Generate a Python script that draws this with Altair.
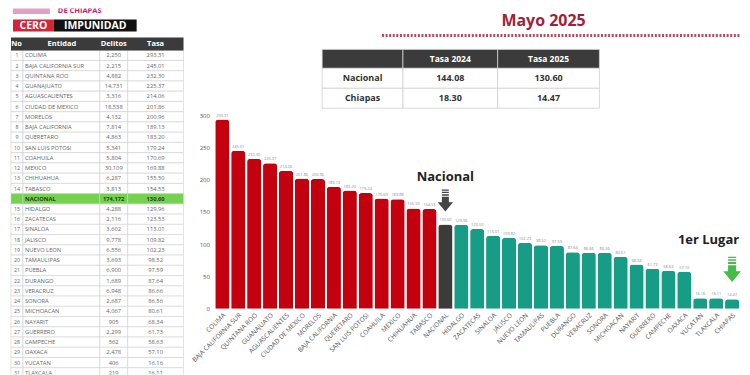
import altair as alt
import pandas as pd

# ---------------- data ----------------
entities = ["COLIMA", "BAJA CALIFORNIA SUR", "QUINTANA ROO", "GUANAJUATO", "AGUASCALIENTES",
            "CIUDAD DE MEXICO", "MORELOS", "BAJA CALIFORNIA", "QUERETARO", "SAN LUIS POTOSI",
            "COAHUILA", "MEXICO", "CHIHUAHUA", "TABASCO", "NACIONAL", "HIDALGO", "ZACATECAS",
            "SINALOA", "JALISCO", "NUEVO LEON", "TAMAULIPAS", "PUEBLA", "DURANGO", "VERACRUZ",
            "SONORA", "MICHOACAN", "NAYARIT", "GUERRERO", "CAMPECHE", "OAXACA", "YUCATAN",
            "TLAXCALA", "CHIAPAS"]
rank_labels = [str(i) for i in range(1, 15)] + [""] + [str(i) for i in range(15, 33)]
delitos = [2250, 2215, 4882, 14731, 3316, 18538, 4132, 7814, 4863, 5341, 5804, 30109, 6287,
           3813, 174172, 4288, 2116, 3602, 9778, 6556, 3693, 6900, 1689, 6948, 2687, 4067,
           905, 2299, 562, 2478, 406, 219, 851]
tasa = [293.31, 245.01, 232.30, 225.37, 214.06, 201.86, 200.96, 189.13, 183.20, 179.24,
        170.69, 169.88, 155.50, 154.53, 130.60, 129.96, 123.53, 113.01, 109.82, 102.23,
        98.52, 97.59, 87.64, 86.66, 86.56, 80.61, 68.34, 61.73, 58.63, 57.10, 16.16,
        16.11, 14.47]

kpi_rows = ["Nacional", "Chiapas"]
kpi_cols = ["Tasa 2024", "Tasa 2025"]
kpi_2024 = [144.08, 18.30]
kpi_2025 = [130.60, 14.47]

TITLE = "Incidencia Nacional Diversos Delitos"
SUBTITLE = "Mayo 2025"
y_ticks = [0, 50, 100, 150, 200, 250, 300]

# ---------------- styles ----------------
RED = "#c4000f"
TEAL = "#179c86"
DARK = "#3b3b3b"
GREEN_ROW = "#74d24f"
GREEN_ARROW = "#43bd48"
PINK = "#c8196a"
FONT = "Open Sans"

nac_idx = entities.index("NACIONAL")
groups = ["alto" if i < nac_idx else ("nac" if i == nac_idx else "bajo")
          for i in range(len(entities))]

# ================= LEFT: ranking table =================
LW, LH = 190, 367
lx = alt.Scale(domain=[8, 8 + LW])
ly = alt.Scale(domain=[8, 8 + LH], reverse=True)
COL_EDGES = [11, 23, 100, 128, 184]
ROW_Y0, ROW_H = 55, 10.27
HDR_Y = (37, 50)

rows, cells = [], []
for i, e in enumerate(entities):
    yc = ROW_Y0 + i * ROW_H
    nac = e == "NACIONAL"
    rows.append(dict(no=rank_labels[i], ent=e, delitos=f"{delitos[i]:,}",
                     tasa=f"{tasa[i]:.2f}", yc=yc, nac=nac))
    for k in range(4):
        cells.append(dict(x0=COL_EDGES[k], x1=COL_EDGES[k + 1],
                          y0=yc - ROW_H / 2, y1=yc + ROW_H / 2, nac=nac))
df_rows = pd.DataFrame(rows)
df_cells = pd.DataFrame(cells)

cell_rects = alt.Chart(df_cells).mark_rect(stroke="#d0d0d0", strokeWidth=0.6, clip=True).encode(
    x=alt.X("x0:Q", scale=lx, axis=None), x2="x1",
    y=alt.Y("y0:Q", scale=ly, axis=None), y2="y1",
    fill=alt.condition("datum.nac", alt.value(GREEN_ROW), alt.value("white")),
)

hdr_df = pd.DataFrame([dict(x0=COL_EDGES[0], x1=COL_EDGES[-1], y0=HDR_Y[0], y1=HDR_Y[1])])
hdr_rect = alt.Chart(hdr_df).mark_rect(color=DARK, clip=True).encode(
    x=alt.X("x0:Q", scale=lx, axis=None), x2="x1",
    y=alt.Y("y0:Q", scale=ly, axis=None), y2="y1")

hdr_txt_df = pd.DataFrame([
    dict(t="No", x=16.5), dict(t="Entidad", x=62), dict(t="Delitos", x=114), dict(t="Tasa", x=156)])
hdr_txt_df["y"] = (HDR_Y[0] + HDR_Y[1]) / 2
hdr_txt = alt.Chart(hdr_txt_df).mark_text(font=FONT, fontWeight="bold", fontSize=7.5,
                                          color="white", clip=True).encode(
    x=alt.X("x:Q", scale=lx, axis=None), y=alt.Y("y:Q", scale=ly, axis=None), text="t:N")


def col_text(field, xpos, align="center", size=5.8, bold=False, nac=False, color="#666"):
    base = alt.Chart(df_rows).transform_filter(
        "datum.nac" if nac else "!datum.nac").transform_calculate(xp=str(xpos))
    return base.mark_text(font=FONT, fontSize=size, align=align, color=color,
                          fontWeight="bold" if bold else "normal", clip=True).encode(
        x=alt.X("xp:Q", scale=lx, axis=None),
        y=alt.Y("yc:Q", scale=ly, axis=None),
        text=f"{field}:N")


row_texts = [
    col_text("no", 17, size=5.3),
    col_text("ent", 25, align="left"),
    col_text("delitos", 114),
    col_text("tasa", 156),
    col_text("ent", 25, align="left", bold=True, nac=True, color="#2a3d1d"),
    col_text("delitos", 114, bold=True, nac=True, color="#2a3d1d"),
    col_text("tasa", 156, bold=True, nac=True, color="#2a3d1d"),
]

# logo
logo_rects = pd.DataFrame([
    dict(x0=13, x1=50, y0=0, y1=13.5, c="#e2a1c4"),
    dict(x0=13, x1=54, y0=19, y1=31, c="#d3253a"),
    dict(x0=54, x1=137, y0=19, y1=31, c="#111111"),
])
logo_r = alt.Chart(logo_rects).mark_rect(clip=True).encode(
    x=alt.X("x0:Q", scale=lx, axis=None), x2="x1",
    y=alt.Y("y0:Q", scale=ly, axis=None), y2="y1",
    fill=alt.Color("c:N", scale=None))
logo_t1 = alt.Chart(pd.DataFrame([dict(t="DEL ESTADO", x=58, y=1.0), dict(t="DE CHIAPAS", x=58, y=11.0)])
                    ).mark_text(font=FONT, fontWeight="bold", fontSize=7.5, color=PINK, align="left",
                                clip=True).encode(
    x=alt.X("x:Q", scale=lx, axis=None), y=alt.Y("y:Q", scale=ly, axis=None), text="t:N")
logo_t2 = alt.Chart(pd.DataFrame([dict(t="CERO", x=33.5, y=25.3), dict(t="IMPUNIDAD", x=95.5, y=25.3)])
                    ).mark_text(font=FONT, fontWeight="bold", fontSize=10.5, color="white",
                                clip=True).encode(
    x=alt.X("x:Q", scale=lx, axis=None), y=alt.Y("y:Q", scale=ly, axis=None), text="t:N")

left = alt.layer(cell_rects, hdr_rect, hdr_txt, *row_texts, logo_r, logo_t1, logo_t2).properties(
    width=LW, height=LH)

# ================= RIGHT: bars + header =================
RW, RH = 527, 301
X0 = 215  # page x of right plot area

df_bars = pd.DataFrame(dict(ent=entities, tasa=tasa, grp=groups))
xenc = alt.X("ent:N", sort=entities,
             scale=alt.Scale(paddingInner=0.11, paddingOuter=0.05),
             axis=alt.Axis(title=None, labelAngle=-45, labelFontSize=6.5, labelColor="#555",
                           labelFont=FONT, ticks=False, domain=False, labelPadding=3,
                           labelLimit=120, labelOverlap=False))
yenc = alt.Y("tasa:Q", scale=alt.Scale(domain=[0, 465.5], nice=False),
             axis=alt.Axis(title=None, values=y_ticks, grid=False, domain=False, ticks=False,
                           labelFontSize=6, labelColor="#555", labelFont=FONT, labelPadding=5))

base = alt.Chart(df_bars)
bars = base.mark_bar(cornerRadiusTopLeft=3, cornerRadiusTopRight=3).encode(
    x=xenc, y=yenc,
    color=alt.Color("grp:N", scale=alt.Scale(domain=["alto", "nac", "bajo"],
                                             range=[RED, DARK, TEAL]), legend=None))
vals = base.mark_text(fontSize=4, color="#8a8a8a", dy=-2, baseline="bottom", font=FONT).encode(
    x=xenc, y=yenc, text=alt.Text("tasa:Q", format=".2f"))

ARROW = ("M-0.32,-1 H0.32 V-0.9 H-0.32 Z M-0.32,-0.8 H0.32 V-0.68 H-0.32 Z "
         "M-0.32,-0.58 H0.32 V-0.44 H-0.32 Z M-0.32,-0.34 H0.32 V0.15 H0.7 L0,1 L-0.7,0.15 H-0.32 Z")

nac_base = base.transform_filter("datum.ent == 'NACIONAL'")
nac_text = nac_base.transform_calculate(lbl="'Nacional'").mark_text(
    font=FONT, fontWeight="bold", fontSize=13, color="#222", dy=-48).encode(
    x=xenc, y=yenc, text="lbl:N")
nac_arrow = nac_base.mark_point(shape=ARROW, size=480, filled=True, opacity=1,
                                color="#444", yOffset=-24).encode(x=xenc, y=yenc)

chi_base = base.transform_filter("datum.ent == 'CHIAPAS'")
chi_text = chi_base.transform_calculate(lbl="'1er Lugar'").mark_text(
    font=FONT, fontWeight="bold", fontSize=13, color="#222", dy=-60, dx=7, align="right").encode(
    x=xenc, y=yenc, text="lbl:N")
chi_arrow = chi_base.mark_point(shape=ARROW, size=640, filled=True, opacity=1,
                                color=GREEN_ARROW, yOffset=-30).encode(x=xenc, y=yenc)

bars_group = alt.layer(bars, vals, nac_text, nac_arrow, chi_text, chi_arrow)

# header: title, subtitle, dotted rule, KPI table (page-pixel scales)
rx = alt.Scale(domain=[X0, X0 + RW])
ry = alt.Scale(domain=[8, 8 + RH], reverse=True)
K_COLS = [323, 404, 499, 601]
K_ROWS = [49, 68, 88, 108]

kcells = []
for r in range(3):
    for c in range(3):
        kcells.append(dict(x0=K_COLS[c], x1=K_COLS[c + 1], y0=K_ROWS[r], y1=K_ROWS[r + 1],
                           hdr=(r == 0)))
df_kcells = pd.DataFrame(kcells)
k_rect = alt.Chart(df_kcells).mark_rect(stroke="#cfcfcf", strokeWidth=0.8).encode(
    x=alt.X("x0:Q", scale=rx, axis=None), x2="x1",
    y=alt.Y("y0:Q", scale=ry, axis=None), y2="y1",
    fill=alt.condition("datum.hdr", alt.value(DARK), alt.value("white")))

kcx = [(K_COLS[c] + K_COLS[c + 1]) / 2 for c in range(3)]
kcy = [(K_ROWS[r] + K_ROWS[r + 1]) / 2 for r in range(3)]
k_hdr_df = pd.DataFrame([dict(t=kpi_cols[j], x=kcx[j + 1], y=kcy[0]) for j in range(2)])
k_hdr = alt.Chart(k_hdr_df).mark_text(font=FONT, fontWeight="bold", fontSize=8.5,
                                      color="white").encode(
    x=alt.X("x:Q", scale=rx, axis=None), y=alt.Y("y:Q", scale=ry, axis=None), text="t:N")
k_body = []
for i, name in enumerate(kpi_rows):
    k_body.append(dict(t=name, x=kcx[0], y=kcy[i + 1]))
    k_body.append(dict(t=f"{kpi_2024[i]:.2f}", x=kcx[1], y=kcy[i + 1]))
    k_body.append(dict(t=f"{kpi_2025[i]:.2f}", x=kcx[2], y=kcy[i + 1]))
k_txt = alt.Chart(pd.DataFrame(k_body)).mark_text(font=FONT, fontWeight="bold", fontSize=9,
                                                  color="#333").encode(
    x=alt.X("x:Q", scale=rx, axis=None), y=alt.Y("y:Q", scale=ry, axis=None), text="t:N")

title_df = pd.DataFrame([dict(t=TITLE, x=545, y=-4),
                         dict(t=SUBTITLE, x=545, y=21)])
title_main = alt.Chart(title_df.iloc[[0]]).mark_text(font=FONT, fontWeight="bold", fontSize=20,
                                                     color="#111", clip=True).encode(
    x=alt.X("x:Q", scale=rx, axis=None), y=alt.Y("y:Q", scale=ry, axis=None), text="t:N")
title_sub = alt.Chart(title_df.iloc[[1]]).mark_text(font=FONT, fontWeight="bold", fontSize=16,
                                                    color="#a3203a").encode(
    x=alt.X("x:Q", scale=rx, axis=None), y=alt.Y("y:Q", scale=ry, axis=None), text="t:N")
dots = alt.Chart(pd.DataFrame([dict(x0=383, x1=X0 + RW, y=35)])).mark_rule(
    color="#b8485a", strokeWidth=3, strokeDash=[2, 1.6]).encode(
    x=alt.X("x0:Q", scale=rx, axis=None), x2="x1", y=alt.Y("y:Q", scale=ry, axis=None))

hdr_group = alt.layer(k_rect, k_hdr, k_txt, title_main, title_sub, dots)

right = alt.layer(bars_group, hdr_group).resolve_scale(
    x="independent", y="independent").properties(width=RW, height=RH)

chart = alt.hconcat(left, right, spacing=X0 - (8 + LW), bounds="flush").properties(
    padding=0, background="white").configure_view(stroke=None)

chart.save("out.html", embed_options={"renderer": "svg", "actions": False})
